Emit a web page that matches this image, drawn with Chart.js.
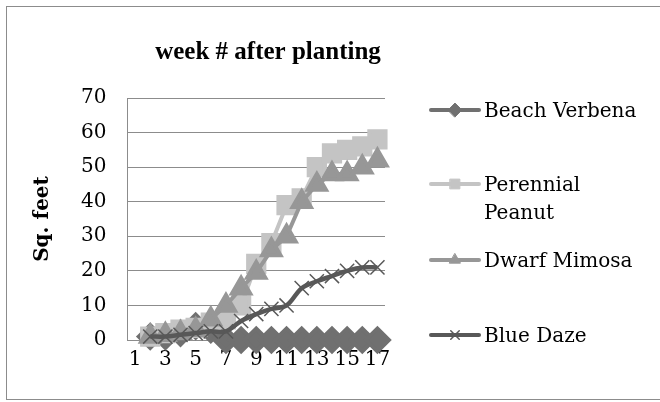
<!DOCTYPE html>
<html>
<head>
<meta charset="utf-8">
<script src="https://cdn.jsdelivr.net/npm/chart.js@4/dist/chart.umd.min.js"></script>
<style>
  html, body { margin: 0; padding: 0; background: #fff; }
  #wrap { position: relative; width: 660px; height: 402px; }
  #frame { position: absolute; left: 6px; top: 6px; width: 660px; height: 394px; border: 1px solid #8c8c8c; box-sizing: border-box; pointer-events: none; }
</style>
</head>
<body>
<div id="wrap">
  <canvas id="growthChart" width="660" height="402"></canvas>
  <div id="frame"></div>
</div>
<script>
// weeks after planting (no readings for week 1)
const weeks = ["1", "2", "3", "4", "5", "6", "7", "8", "9", "10", "11", "12", "13", "14", "15", "16", "17"];
const beachVerbena = [null, 1, 1, 2, 4, 3, 0, 0, 0, 0, 0, 0, 0, 0, 0, 0, 0];
const perennialPeanut = [null, 1, 2, 3, 3.5, 5, 6, 10, 22, 28, 39, 41, 50, 54, 55, 56, 58];
const dwarfMimosa = [null, 1, 1.5, 2, 3, 6, 10, 15, 19.5, 26, 30, 40, 45, 48, 48, 50, 52];
const blueDaze = [null, 1, 1, 1.5, 2, 2.5, 2.5, 5.5, 7.5, 9, 10, 15, 17, 18.5, 20, 21, 21];
const yTicks = [0, 10, 20, 30, 40, 50, 60, 70];

const serif = "'DejaVu Serif', serif";
const chartTitle = "week # after planting";

// legend placement, right of the plot
const legendRows = [
  { lines: ["Beach Verbena"], y: 110 },
  { lines: ["Perennial", "Peanut"], y: 184 },
  { lines: ["Dwarf Mimosa"], y: 260 },
  { lines: ["Blue Daze"], y: 335 },
];

const sideLegend = {
  id: "sideLegend",
  afterDraw(chart) {
    const ctx = chart.ctx;
    ctx.save();
    // title is centred over the whole frame, not just the plot
    ctx.fillStyle = "#000";
    ctx.font = "bold 25px 'Liberation Serif', serif";
    ctx.textAlign = "center";
    ctx.textBaseline = "alphabetic";
    ctx.fillText(chartTitle, 268, 59);
    ctx.textAlign = "left";

    chart.data.datasets.forEach((ds, i) => {
      const row = legendRows[i];
      ctx.strokeStyle = ds.borderColor;
      ctx.lineWidth = 4;
      ctx.lineCap = "round";
      ctx.beginPath();
      ctx.moveTo(431, row.y);
      ctx.lineTo(479, row.y);
      ctx.stroke();
      ctx.fillStyle = ds.pointBackgroundColor;
      ctx.strokeStyle = ds.pointBorderColor;
      ctx.lineWidth = ds.pointBorderWidth || 1;
      Chart.helpers.drawPoint(ctx, {
        pointStyle: ds.pointStyle,
        radius: ds.pointRadius * 0.6,
        borderWidth: ds.pointBorderWidth || 1,
      }, 455, row.y);
      ctx.fillStyle = "#000";
      ctx.font = "20px " + serif;
      row.lines.forEach((t, k) => ctx.fillText(t, 484, row.y + 7 + k * 28));
    });
    ctx.restore();
  },
};

const ctx = document.getElementById("growthChart").getContext("2d");
new Chart(ctx, {
  type: "line",
  data: {
    labels: weeks,
    datasets: [
      {
        label: "Beach Verbena",
        data: beachVerbena,
        borderColor: "#707070",
        backgroundColor: "#707070",
        pointBackgroundColor: "#707070",
        pointBorderColor: "#707070",
        pointStyle: "rectRot",
        pointRadius: 11.5,
        borderWidth: 4,
        clip: false,
        order: 3,
      },
      {
        label: "Perennial Peanut",
        data: perennialPeanut,
        borderColor: "#c4c4c4",
        backgroundColor: "#c4c4c4",
        pointBackgroundColor: "#c4c4c4",
        pointBorderColor: "#c4c4c4",
        pointStyle: "rect",
        pointRadius: 11.5,
        borderWidth: 4,
        clip: false,
        order: 2,
      },
      {
        label: "Dwarf Mimosa",
        data: dwarfMimosa,
        borderColor: "#979797",
        backgroundColor: "#979797",
        pointBackgroundColor: "#979797",
        pointBorderColor: "#979797",
        pointStyle: "triangle",
        pointRadius: 10.5,
        borderWidth: 4,
        clip: false,
        order: 1,
      },
      {
        label: "Blue Daze",
        data: blueDaze,
        borderColor: "#585858",
        backgroundColor: "#585858",
        pointBackgroundColor: "#585858",
        pointBorderColor: "#585858",
        pointStyle: "crossRot",
        pointRadius: 10,
        pointBorderWidth: 1.5,
        borderWidth: 4.5,
        tension: 0.35,
        clip: false,
        order: 0,
      },
    ],
  },
  options: {
    responsive: false,
    animation: false,
    layout: { padding: { left: 0, right: 275, top: 98, bottom: 22 } },
    plugins: {
      legend: { display: false },
      tooltip: { enabled: false },
      title: { display: false },
    },
    scales: {
      x: {
        offset: true,
        grid: { display: false, offset: true },
        border: { display: true, color: "#8c8c8c" },
        ticks: {
          autoSkip: false,
          maxRotation: 0,
          padding: 0,
          color: "#000",
          font: { family: serif, size: 20 },
          callback: function (value, index) {
            return index % 2 === 0 ? weeks[index] : "";
          },
        },
        afterFit: function (scale) {
          scale.height = 40;
        },
      },
      y: {
        min: 0,
        max: 70,
        afterBuildTicks: function (scale) {
          scale.ticks = yTicks.map((v) => ({ value: v }));
        },
        grid: { color: "#8c8c8c", lineWidth: 1, drawTicks: false },
        border: { display: true, color: "#8c8c8c" },
        ticks: {
          padding: 21,
          color: "#000",
          font: { family: serif, size: 20 },
        },
        title: {
          display: true,
          text: "Sq. feet",
          color: "#000",
          font: { family: serif, size: 20, weight: "bold" },
          padding: { top: 31, bottom: 0 },
        },
        afterFit: function (scale) {
          scale.width = 127.5;
        },
      },
    },
  },
  plugins: [sideLegend],
});
</script>
</body>
</html>
